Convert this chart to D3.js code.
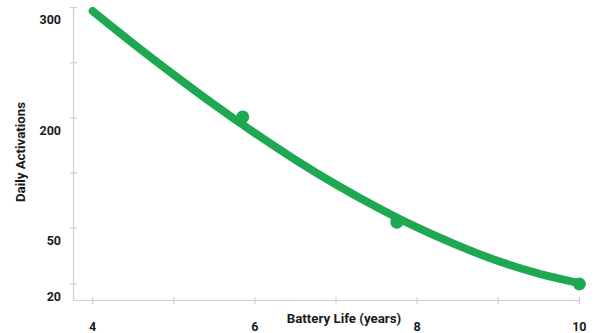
<!DOCTYPE html>
<html>
<head>
<meta charset="utf-8">
<script src="https://cdn.jsdelivr.net/npm/d3@7"></script>
<style>
  html, body { margin: 0; padding: 0; background: #fff; }
  svg { display: block; }
  text { font-family: Roboto, "Noto Sans", sans-serif; font-weight: 700; fill: #1a1a1a; }
</style>
</head>
<body>
<svg id="chart" width="600" height="333"></svg>
<script>
// Battery life (years) on x, daily activations on y
const xTickValues = [4, 5, 6, 7, 8, 9, 10];
const xTickLabels = ["4", "", "6", "", "8", "", "10"];
const yTickValues = [300, 250, 200, 125, 50, 20];
const yTickLabels = ["300", "", "200", "", "50", "20"];

// fitted trend curve
const curveYears = [4, 4.5, 5, 5.5, 6, 6.5, 7, 7.5, 8, 8.5, 9, 9.5, 10];
const curveActivations = [296.8, 267.4, 239.2, 212.0, 179.4, 143.0, 109.3, 78.6, 50.7, 40.7, 32.3, 25.6, 20.5];

// observed measurements
const pointYears = [5.85, 7.75, 10];
const pointActivations = [201, 58, 20];

const svg = d3.select("#chart");
const green = "#1fa852";
const axisGrey = "#cfcfcf";

const x = d3.scaleLinear().domain([4, 10]).range([92.7, 579.3]);
// unevenly spaced activation axis
const y = d3.scaleLinear().domain([300, 200, 50, 20]).range([7.5, 118, 228, 284]);

const axisX0 = 73.5, axisY0 = 300.5;

// y axis
const gy = svg.append("g");
gy.append("line")
  .attr("x1", axisX0).attr("x2", axisX0)
  .attr("y1", y(300)).attr("y2", axisY0)
  .attr("stroke", axisGrey).attr("stroke-width", 1.2);
gy.selectAll("line.tick").data(yTickValues).join("line")
  .attr("class", "tick")
  .attr("x1", axisX0 - 3.5).attr("x2", axisX0 + 3.5)
  .attr("y1", d => y(d)).attr("y2", d => y(d))
  .attr("stroke", axisGrey).attr("stroke-width", 1.2);
gy.selectAll("text").data(yTickValues).join("text")
  .attr("x", 61)
  .attr("y", d => y(d) + 12.5)
  .attr("dy", "0.35em")
  .attr("text-anchor", "end")
  .attr("font-size", 12.5)
  .text((d, i) => yTickLabels[i]);

// x axis
const gx = svg.append("g");
gx.append("line")
  .attr("x1", axisX0).attr("x2", x(10))
  .attr("y1", axisY0).attr("y2", axisY0)
  .attr("stroke", axisGrey).attr("stroke-width", 1.2);
gx.selectAll("line.tick").data(xTickValues).join("line")
  .attr("class", "tick")
  .attr("x1", d => x(d)).attr("x2", d => x(d))
  .attr("y1", axisY0 - 3.5).attr("y2", axisY0 + 3.5)
  .attr("stroke", axisGrey).attr("stroke-width", 1.2);
gx.selectAll("text").data(xTickValues).join("text")
  .attr("x", d => x(d))
  .attr("y", 327)
  .attr("dy", "0.35em")
  .attr("text-anchor", "middle")
  .attr("font-size", 12.5)
  .text((d, i) => xTickLabels[i]);

// axis titles
svg.append("text")
  .attr("x", 344).attr("y", 318)
  .attr("dy", "0.35em")
  .attr("text-anchor", "middle")
  .attr("font-size", 13.3)
  .text("Battery Life (years)");
svg.append("text")
  .attr("transform", "translate(20,152) rotate(-90)")
  .attr("dy", "0.35em")
  .attr("text-anchor", "middle")
  .attr("font-size", 13.3)
  .text("Daily Activations");

// trend curve
const line = d3.line()
  .x(d => x(d[0]))
  .y(d => y(d[1]))
  .curve(d3.curveNatural);
svg.append("path")
  .datum(d3.zip(curveYears, curveActivations))
  .attr("d", line)
  .attr("fill", "none")
  .attr("stroke", green)
  .attr("stroke-width", 8)
  .attr("stroke-linecap", "round");

// measurement dots
svg.selectAll("circle.pt").data(d3.zip(pointYears, pointActivations)).join("circle")
  .attr("class", "pt")
  .attr("cx", d => x(d[0]))
  .attr("cy", d => y(d[1]))
  .attr("r", 6.5)
  .attr("fill", green);
</script>
</body>
</html>
